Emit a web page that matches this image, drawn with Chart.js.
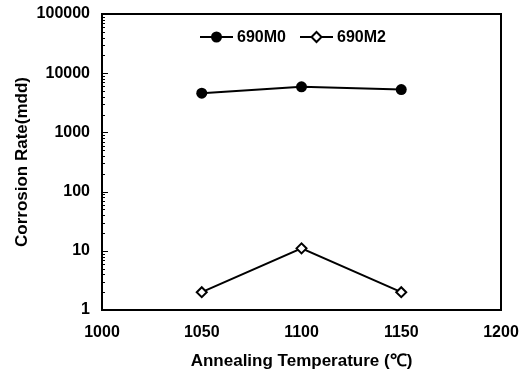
<!DOCTYPE html>
<html><head><meta charset="utf-8">
<script src="https://cdn.jsdelivr.net/npm/chart.js@4/dist/chart.umd.min.js"></script>
<style>html,body{margin:0;padding:0;background:#fff}#wrap{width:525px;height:372px}</style>
</head><body><div id="wrap"><canvas id="c" width="525" height="372"></canvas></div>
<script>
const temperatures = [1050, 1100, 1150];
const rate690M0 = [4600, 5900, 5300];
const rate690M2 = [2, 11, 2];
const seriesNames = ['690M0', '690M2'];
const xTicks = [1000, 1050, 1100, 1150, 1200];
const yTicks = [1, 10, 100, 1000, 10000, 100000];
const xTitle = 'Annealing Temperature (\u2103)';
const yTitle = 'Corrosion Rate(mdd)';

const FONT = "'Liberation Sans', Arial, sans-serif";
Chart.defaults.font.family = FONT;
Chart.defaults.color = '#000';

const framePlugin = {
  id: 'frame',
  afterDraw(chart) {
    const ctx = chart.ctx, a = chart.chartArea, ys = chart.scales.y;
    ctx.save();
    ctx.strokeStyle = '#000';
    ctx.lineWidth = 2;
    ctx.strokeRect(a.left, a.top, a.right - a.left, a.bottom - a.top);
    ctx.lineWidth = 1;
    for (let i = 0; i < yTicks.length - 1; i++) {
      for (let m = 1; m <= 9; m++) {
        const py = Math.round(ys.getPixelForValue(yTicks[i] * m)) + 0.5;
        const len = m === 1 ? 6 : 3;
        ctx.beginPath(); ctx.moveTo(a.left, py); ctx.lineTo(a.left + len, py); ctx.stroke();
      }
    }
    // legend
    const ly = a.top + 23;
    const starts = [a.left + 98, a.left + 198];
    ctx.font = 'bold 16px ' + FONT;
    ctx.textBaseline = 'middle';
    ctx.fillStyle = '#000';
    chart.data.datasets.forEach((ds, i) => {
      const x0 = starts[i], x1 = x0 + 33, xm = (x0 + x1) / 2;
      ctx.lineWidth = 2;
      ctx.beginPath(); ctx.moveTo(x0, ly); ctx.lineTo(x1, ly); ctx.stroke();
      if (ds.pointStyle === 'circle') {
        ctx.beginPath(); ctx.arc(xm, ly, ds.pointRadius, 0, Math.PI * 2);
        ctx.fillStyle = ds.pointBackgroundColor; ctx.fill();
      } else {
        const r = ds.pointRadius;
        ctx.beginPath(); ctx.moveTo(xm, ly - r); ctx.lineTo(xm + r, ly); ctx.lineTo(xm, ly + r); ctx.lineTo(xm - r, ly); ctx.closePath();
        ctx.fillStyle = ds.pointBackgroundColor; ctx.fill();
        ctx.lineWidth = ds.pointBorderWidth; ctx.stroke();
      }
      ctx.fillStyle = '#000';
      ctx.textAlign = 'left';
      ctx.fillText(ds.label, x1 + 4, ly + 1);
    });
    ctx.restore();
  }
};

new Chart(document.getElementById('c'), {
  type: 'line',
  data: {
    datasets: [
      {
        label: seriesNames[0],
        data: temperatures.map((t, i) => ({ x: t, y: rate690M0[i] })),
        borderColor: '#000', borderWidth: 2,
        pointStyle: 'circle', pointRadius: 5.5,
        pointBackgroundColor: '#000', pointBorderColor: '#000', pointBorderWidth: 0,
        tension: 0
      },
      {
        label: seriesNames[1],
        data: temperatures.map((t, i) => ({ x: t, y: rate690M2[i] })),
        borderColor: '#000', borderWidth: 2,
        pointStyle: 'rectRot', pointRadius: 5,
        pointBackgroundColor: '#fff', pointBorderColor: '#000', pointBorderWidth: 2,
        tension: 0
      }
    ]
  },
  options: {
    responsive: false,
    animation: false,
    layout: { padding: { top: 14, right: 24, left: 0, bottom: 0 } },
    plugins: { legend: { display: false }, tooltip: { enabled: false } },
    scales: {
      x: {
        type: 'linear', min: 1000, max: 1200,
        afterBuildTicks: s => { s.ticks = xTicks.map(v => ({ value: v })); },
        afterFit: s => { s.height = 62; s.paddingLeft = 0; s.paddingRight = 0; },
        grid: { display: false, drawTicks: false },
        border: { display: false },
        ticks: { font: { size: 16, weight: 'bold' }, color: '#000', padding: 13, callback: v => String(v) },
        title: { display: true, text: xTitle, font: { size: 17, weight: 'bold' }, color: '#000', padding: { top: 3, bottom: 0 } }
      },
      y: {
        type: 'logarithmic', min: 1, max: 100000,
        afterBuildTicks: s => { s.ticks = yTicks.map(v => ({ value: v, major: true })); },
        afterFit: s => { s.width = 102; s.paddingTop = 0; s.paddingBottom = 0; },
        grid: { display: false, drawTicks: false },
        border: { display: false },
        ticks: { font: { size: 16, weight: 'bold' }, color: '#000', padding: 12, autoSkip: false, callback: v => String(v) },
        title: { display: true, text: yTitle, font: { size: 17, weight: 'bold' }, color: '#000', padding: { top: 12, bottom: 0 } }
      }
    }
  },
  plugins: [framePlugin]
});
</script>
</body></html>
